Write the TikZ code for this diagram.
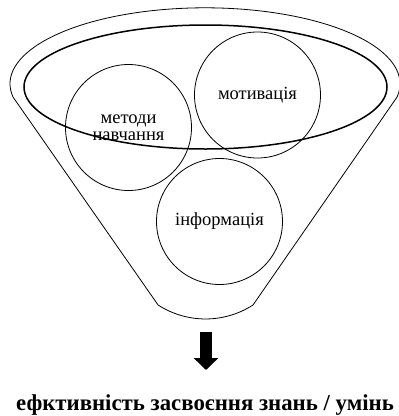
\documentclass[tikz,border=0pt]{standalone}
\usepackage{fontspec}
\setmainfont{Liberation Serif}
\usetikzlibrary{arrows.meta}

\tikzset{
  funnelline/.style={draw, line width=0.8pt},
  ring/.style={circle, draw, line width=0.8pt, minimum size=126pt, inner sep=0pt,
    align=center, font=\fontsize{18.5}{17.5}\selectfont},
}

\begin{document}
\begin{tikzpicture}[x=1pt, y=1pt]
\useasboundingbox (0,0) rectangle (399,-416);
% funnel outline
\draw[funnelline] (13,-97) arc[start angle=190, end angle=-10, x radius=195, y radius=76]
  -- (253,-305) arc[start angle=-57.2, end angle=-122.8, radius=87.6] -- cycle;
\draw[line width=1.5pt] (205.5,-87) ellipse [x radius=181.5, y radius=62];
% circles
\node[ring] (metody) at (128.5,-127.5) {методи\\навчання};
\node[ring] (motyv)  at (257.5,-95)    {мотивація};
\node[ring] (inform) at (219.5,-221.5) {інформація};
% result
\coordinate (arrtop) at (206,-332);
\coordinate (arrtip) at (206,-370);
\draw[line width=12pt, -{Triangle[width=24pt, length=12pt]}] (arrtop) -- (arrtip);
\node[font=\fontsize{22.8}{25}\selectfont\bfseries] (result) at (205,-405)
  {ефктивність засвоєння знань / умінь};
\end{tikzpicture}
\end{document}
